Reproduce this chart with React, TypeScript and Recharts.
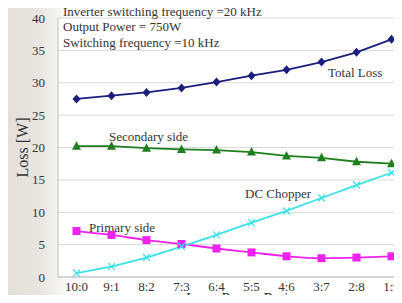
import React from 'react';
import { LineChart, Line, XAxis, YAxis, CartesianGrid, Customized } from 'recharts';

const ratios = ['10:0', '9:1', '8:2', '7:3', '6:4', '5:5', '4:6', '3:7', '2:8', '1:9'];
const totalLoss = [27.5, 28.0, 28.5, 29.2, 30.1, 31.1, 32.0, 33.2, 34.7, 36.7];
const secondarySide = [20.2, 20.2, 19.9, 19.7, 19.6, 19.3, 18.7, 18.4, 17.8, 17.5];
const primarySide = [7.1, 6.5, 5.7, 5.1, 4.4, 3.8, 3.2, 2.9, 3.0, 3.2];
const dcChopper = [0.6, 1.6, 3.0, 4.7, 6.5, 8.4, 10.2, 12.2, 14.2, 16.1];
const yTicks = [0, 5, 10, 15, 20, 25, 30, 35, 40];

const data = ratios.map((ratio, i) => ({
  ratio,
  total: totalLoss[i],
  secondary: secondarySide[i],
  primary: primarySide[i],
  chopper: dcChopper[i],
}));

const NAVY = '#1c1c7c';
const GREEN = '#1f7f1f';
const MAGENTA = '#ee22ee';
const CYAN = '#3ee0e8';
const SERIF = '"Liberation Serif", "Times New Roman", serif';

const Diamond = (props: any) => {
  const { cx, cy } = props;
  return <polygon points={`${cx},${cy - 4.5} ${cx + 4},${cy} ${cx},${cy + 4.5} ${cx - 4},${cy}`} fill={NAVY} />;
};

const Triangle = (props: any) => {
  const { cx, cy } = props;
  return <polygon points={`${cx},${cy - 5} ${cx + 4.5},${cy + 3.5} ${cx - 4.5},${cy + 3.5}`} fill={GREEN} />;
};

const Square = (props: any) => {
  const { cx, cy } = props;
  return <rect x={cx - 4} y={cy - 4} width={8} height={8} fill={MAGENTA} />;
};

const Cross = (props: any) => {
  const { cx, cy } = props;
  return (
    <g stroke={CYAN} strokeWidth={1.3}>
      <line x1={cx - 3.5} y1={cy - 3.5} x2={cx + 3.5} y2={cy + 3.5} />
      <line x1={cx - 3.5} y1={cy + 3.5} x2={cx + 3.5} y2={cy - 3.5} />
    </g>
  );
};

// text boxes pasted over the plot, plus the axis title that runs off the bottom
const Notes = () => (
  <g fontFamily={SERIF} fontSize={13} fill="#333">
    <text x={63} y={16}>Inverter switching frequency =20 kHz</text>
    <text x={63} y={30.5}>Output Power = 750W</text>
    <text x={63} y={46.5}>Switching frequency =10 kHz</text>
    <text x={328} y={77}>Total Loss</text>
    <text x={109} y={141}>Secondary side</text>
    <text x={245} y={197.5}>DC Chopper</text>
    <text x={89} y={232}>Primary side</text>
    <text x={241} y={303} fontSize={15} textAnchor="middle">Input Power Ratio</text>
  </g>
);

export default function App() {
  return (
    <div
      style={{
        position: 'relative',
        margin: -8,
        width: 402,
        height: 303,
        overflow: 'hidden',
        background: 'linear-gradient(to right, #e3ded9 0px, #e9e5e1 40px, #f8f7f5 62px, #ffffff 90px)',
      }}
    >
      <LineChart width={410} height={303} data={data} margin={{ top: 18, right: 0, bottom: 0, left: 0 }}>
        <CartesianGrid vertical={false} stroke="#d9d9d9" fill="#ffffff" />
        <XAxis
          dataKey="ratio"
          interval={0}
          height={26}
          padding={{ left: 18.5, right: 18.5 }}
          tickSize={0}
          tickMargin={5}
          stroke="#bfbfbf"
          tick={{ fill: '#333', fontSize: 13, fontFamily: SERIF }}
        />
        <YAxis
          width={58}
          domain={[0, 40]}
          ticks={yTicks}
          interval={0}
          tickSize={0}
          tickMargin={13}
          stroke="#bfbfbf"
          tick={{ fill: '#333', fontSize: 13, fontFamily: SERIF }}
          label={{ value: 'Loss [W]', angle: -90, position: 'center', dx: -7, fill: '#333', fontSize: 16, fontFamily: SERIF }}
        />
        <Line type="linear" dataKey="total" stroke={NAVY} strokeWidth={1.8} dot={<Diamond />} isAnimationActive={false} />
        <Line type="linear" dataKey="secondary" stroke={GREEN} strokeWidth={1.8} dot={<Triangle />} isAnimationActive={false} />
        <Line type="monotone" dataKey="primary" stroke={MAGENTA} strokeWidth={1.8} dot={<Square />} isAnimationActive={false} />
        <Line type="linear" dataKey="chopper" stroke={CYAN} strokeWidth={1.8} dot={<Cross />} isAnimationActive={false} />
        <Customized component={Notes} />
      </LineChart>
    </div>
  );
}
